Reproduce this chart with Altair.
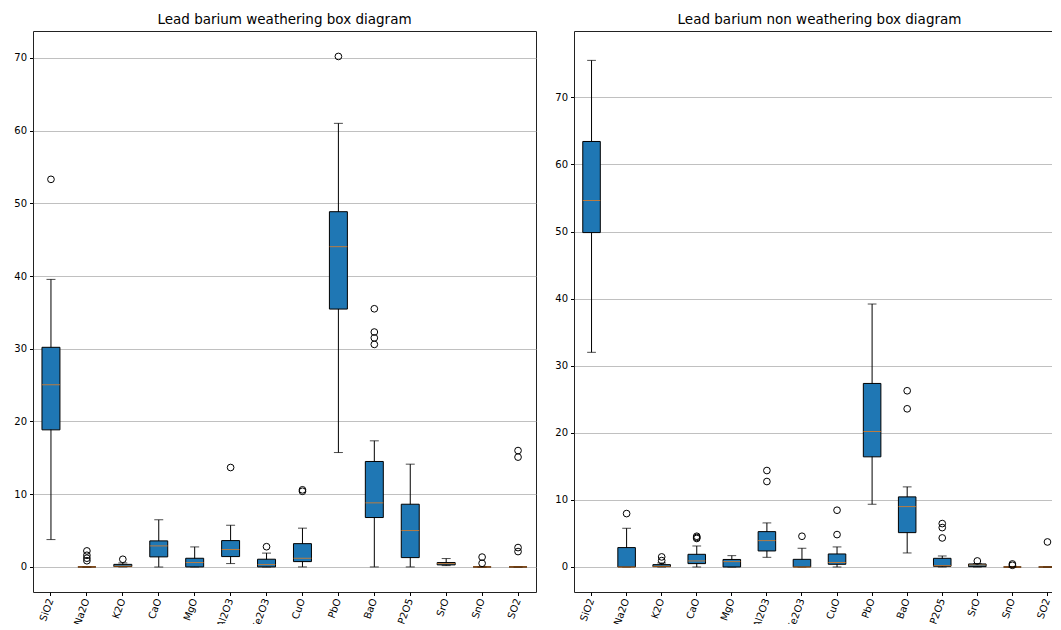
import altair as alt
import pandas as pd

cats = ["SiO2", "Na2O", "K2O", "CaO", "MgO", "Al2O3", "Fe2O3", "CuO",
        "PbO", "BaO", "P2O5", "SrO", "SnO", "SO2"]

# Lead barium, weathering
w_lo = [3.76, 0, 0, 0, 0, 0.46, 0, 0, 15.73, 0, 0, 0.18, 0, 0]
w_q1 = [18.85, 0, 0.05, 1.38, 0, 1.42, 0, 0.73, 35.46, 6.79, 1.28, 0.28, 0, 0]
w_med = [25.05, 0, 0.1, 2.89, 0.6, 2.39, 0.32, 1.19, 44.04, 8.81, 5.0, 0.46, 0, 0]
w_q3 = [30.2, 0, 0.35, 3.58, 1.19, 3.62, 1.06, 3.2, 48.85, 14.5, 8.62, 0.6, 0, 0]
w_hi = [39.54, 0, 0.55, 6.47, 2.75, 5.73, 1.9, 5.33, 61.0, 17.34, 14.13, 1.15, 0, 0]
w_out = [[53.3], [2.2, 1.6, 1.2, 0.85], [1.05], [], [], [13.67], [2.78],
         [10.6, 10.4], [70.2], [35.5, 32.3, 31.5, 30.6], [], [], [1.35, 0.5],
         [16.0, 15.1, 2.66, 2.11]]

# Lead barium, non weathering
n_lo = [32.0, 0, 0, 0, 0, 1.44, 0, 0, 9.35, 2.09, 0, 0, 0, 0]
n_q1 = [49.85, 0, 0.05, 0.5, 0, 2.39, 0, 0.4, 16.42, 5.12, 0.1, 0.05, 0, 0]
n_med = [54.63, 0, 0.1, 0.9, 0.8, 3.93, 0, 0.65, 20.2, 9.0, 0.2, 0.3, 0, 0]
n_q3 = [63.43, 2.89, 0.35, 1.89, 1.12, 5.27, 1.14, 1.94, 27.36, 10.45, 1.29, 0.45, 0, 0]
n_hi = [75.52, 5.77, 0.6, 3.13, 1.69, 6.57, 2.79, 2.99, 39.2, 11.94, 1.64, 0.5, 0, 0]
n_out = [[], [7.96], [1.5, 0.95], [4.58, 4.4, 4.25], [], [14.38, 12.74], [4.58],
         [8.46, 4.83], [], [26.27, 23.58], [6.47, 5.87, 4.33], [0.9], [0.45, 0.25],
         [3.73]]

FONT = "DejaVu Sans"
BLUE = "#1f77b4"
ORANGE = "#ff7f0e"


def panel(title, lo, q1, med, q3, hi, out, domain, width, height):
    stats = pd.DataFrame({"cat": cats, "lo": lo, "q1": q1, "med": med,
                          "q3": q3, "hi": hi})
    outs = pd.DataFrame([{"cat": c, "v": v} for c, vs in zip(cats, out) for v in vs])
    band = width / len(cats)
    x = alt.X("cat:N", sort=cats, title=None,
              scale=alt.Scale(paddingInner=0.5, paddingOuter=0.25),
              axis=alt.Axis(labelAngle=290, labelFontSize=10, labelFont=FONT,
                            labelColor="black", tickColor="black", tickSize=3.5,
                            domain=False, labelPadding=3))
    yscale = alt.Scale(domain=domain, nice=False, zero=False)
    yaxis = alt.Axis(values=[0, 10, 20, 30, 40, 50, 60, 70], grid=True,
                     gridColor="#b0b0b0", gridWidth=0.8, labelFontSize=10,
                     labelFont=FONT, labelColor="black", tickColor="black",
                     tickSize=3.5, domain=False, labelPadding=3)
    base = alt.Chart(stats).encode(x=x)
    whisk = base.mark_rule(color="black", strokeWidth=1).encode(
        y=alt.Y("lo:Q", scale=yscale, axis=yaxis, title=None), y2="hi:Q")
    cap_lo = base.mark_tick(color="black", size=band * 0.25, thickness=1).encode(
        y=alt.Y("lo:Q", scale=yscale, title=None))
    cap_hi = base.mark_tick(color="black", size=band * 0.25, thickness=1).encode(
        y=alt.Y("hi:Q", scale=yscale, title=None))
    box = base.mark_bar(fill=BLUE, stroke="black", strokeWidth=1).encode(
        y=alt.Y("q1:Q", scale=yscale, title=None), y2="q3:Q")
    medl = base.mark_tick(color=ORANGE, size=band * 0.5, thickness=1).encode(
        y=alt.Y("med:Q", scale=yscale, title=None))
    fl = alt.Chart(outs).mark_point(shape="circle", filled=False, stroke="black",
                                    strokeWidth=1, size=45, opacity=1).encode(
        x=alt.X("cat:N", sort=cats), y=alt.Y("v:Q", scale=yscale, title=None))
    return alt.layer(whisk, cap_lo, cap_hi, box, medl, fl).properties(
        width=width, height=height,
        title=alt.TitleParams(title, fontSize=13.5, font=FONT, fontWeight="normal",
                              color="black", offset=5))


left = panel("Lead barium weathering box diagram", w_lo, w_q1, w_med, w_q3, w_hi,
             w_out, [-3.45, 73.7], 503, 561)
right = panel("Lead barium non weathering box diagram", n_lo, n_q1, n_med, n_q3,
              n_hi, n_out, [-3.73, 79.9], 491, 561)

chart = alt.hconcat(left, right, spacing=17).resolve_scale(y="independent").configure_view(
    stroke="#222", strokeWidth=1
).properties(padding={"left": 5, "top": 4, "right": -14.5, "bottom": -7},
             background="white")

chart.save("out.html", embed_options={"renderer": "svg", "actions": False})
